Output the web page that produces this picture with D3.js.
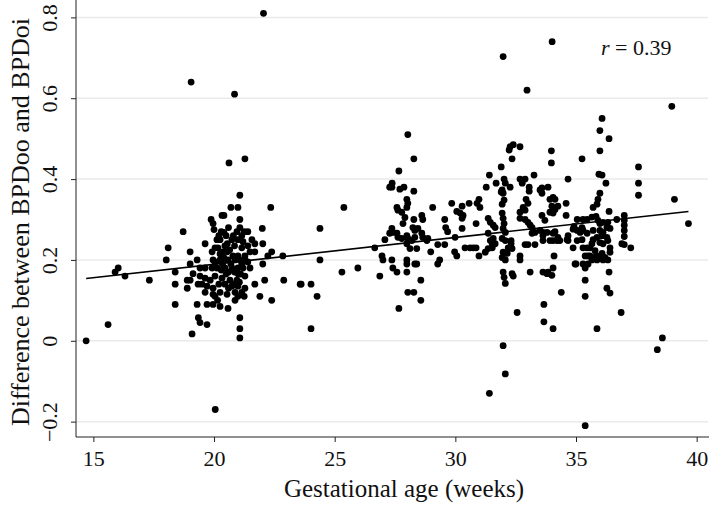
<!DOCTYPE html>
<html><head><meta charset="utf-8">
<script src="https://cdn.jsdelivr.net/npm/d3@7"></script>
<style>body{margin:0;background:#fff}svg{display:block}</style>
</head><body><svg id="c" width="709" height="505"></svg>
<script>
const xTicks = [15, 20, 25, 30, 35, 40];
const yTicks = [-0.2, 0, 0.2, 0.4, 0.6, 0.8];
const yTickLabels = ["\u22120.2", "0", "0.2", "0.4", "0.6", "0.8"];
const xLabel = "Gestational age (weeks)";
const yLabel = "Difference between BPDoo and BPDoi";
const corrValue = "0.39";
const fitIntercept = 0.0562;
const fitSlope = 0.00665;

// gestational age (weeks), difference
const earlyGroup = [
[14.70,0.0],[15.61,0.04],[15.90,0.17],[16.03,0.18],[16.31,0.16],[17.32,0.15],[18.02,0.20],[18.10,0.23],[18.39,0.17],[18.39,0.14],[18.39,0.09],[18.72,0.27],[18.89,0.15],[18.89,0.13],[19.01,0.22],[19.01,0.19],[19.05,0.64],[19.09,0.017],[19.30,0.20],[19.30,0.09],[19.35,0.057],[19.42,0.045],[19.42,0.18],[19.42,0.16],[19.50,0.14],[19.63,0.24],[19.63,0.18],[19.63,0.155],[19.63,0.12],[19.71,0.135],[19.71,0.09],[19.71,0.04],[20.05,-0.17],[19.01,0.15],[19.13,0.166],[19.34,0.14],
[20.62,0.44],[21.28,0.45],[20.85,0.61],[22.05,0.81],
[21.07,0.36],[20.70,0.33],[20.99,0.33],[22.35,0.33],
[20.33,0.31],[20.41,0.31],[19.88,0.30],[19.96,0.29],[21.07,0.30],
[20.00,0.275],[20.41,0.268],[20.95,0.27],[21.07,0.28],[21.25,0.27],[21.40,0.27],[22.00,0.278],
[20.12,0.25],[20.25,0.25],[20.74,0.25],[20.99,0.25],[21.57,0.25],[21.69,0.24],[22.02,0.24],
[19.92,0.22],[20.04,0.23],[20.16,0.23],[20.37,0.22],[20.54,0.22],[20.78,0.21],[20.99,0.21],[21.28,0.21],[21.49,0.22],[21.69,0.22],[20.45,0.235],[20.65,0.225],[21.15,0.23],[21.40,0.235],[20.25,0.215],
[22.23,0.21],[22.39,0.22],[22.85,0.21],
[19.96,0.20],[20.04,0.195],[20.25,0.20],[20.58,0.20],[20.87,0.20],[21.07,0.20],[21.28,0.20],[21.40,0.195],[20.41,0.205],[20.70,0.19],[21.15,0.19],[22.02,0.19],
[19.92,0.18],[20.12,0.18],[20.45,0.18],[20.74,0.18],[20.99,0.18],[21.20,0.18],[21.49,0.18],[20.30,0.175],[20.85,0.17],
[19.84,0.15],[20.04,0.16],[20.33,0.155],[20.66,0.15],[20.95,0.15],[21.28,0.16],[20.50,0.165],[21.10,0.165],
[22.10,0.15],[22.89,0.15],[23.57,0.14],[21.69,0.14],
[19.96,0.13],[20.45,0.14],[20.74,0.135],[20.99,0.135],[21.28,0.13],[20.20,0.14],
[19.96,0.115],[20.25,0.12],[20.54,0.115],[20.87,0.12],[21.15,0.12],
[21.90,0.11],[21.25,0.11],[20.87,0.10],[20.99,0.11],[20.04,0.11],[20.15,0.10],[22.39,0.10],
[19.96,0.09],[20.25,0.085],[20.58,0.08],
[21.07,0.057],[21.07,0.03],[21.07,0.007],
[20.30,0.27],[20.50,0.26],[20.60,0.28],[20.80,0.26],[21.15,0.26],[20.20,0.26],[20.55,0.24],[20.85,0.235],[21.20,0.245],[20.35,0.19],[20.60,0.17],[21.00,0.165],[20.80,0.14],[20.60,0.13],[21.05,0.145]
];
const midGroup = [
[23.61,0.14],[24.02,0.14],[24.02,0.03],[24.27,0.11],[24.39,0.278],[24.39,0.20],[25.30,0.17],[25.38,0.33],[25.96,0.18],[26.87,0.16],
[28.03,0.51],[28.28,0.45],[27.66,0.42],
[27.38,0.39],[27.28,0.38],[27.37,0.38],[27.70,0.375],[27.87,0.38],[28.28,0.37],
[27.99,0.35],[28.03,0.34],[27.99,0.33],[29.06,0.33],[29.85,0.34],[30.06,0.32],
[27.58,0.33],[27.62,0.323],[27.78,0.318],
[28.61,0.31],[28.65,0.30],[28.28,0.30],[27.91,0.305],[27.83,0.29],
[29.56,0.30],[29.60,0.28],[29.68,0.27],
[28.24,0.28],[28.32,0.273],[28.45,0.278],
[27.37,0.278],[27.41,0.268],[27.28,0.266],[27.58,0.266],[27.62,0.256],[27.78,0.253],[27.99,0.26],[28.03,0.253],[28.20,0.248],[28.32,0.256],[28.61,0.266],[28.65,0.256],[28.82,0.248],[28.86,0.253],
[27.08,0.25],[26.66,0.23],
[27.99,0.24],[28.12,0.228],[28.40,0.228],[29.27,0.238],[29.56,0.238],[28.98,0.22],[29.97,0.22],[30.06,0.21],
[26.96,0.21],[27.00,0.20],[27.37,0.20],[27.99,0.20],[27.99,0.19],[28.32,0.19],[28.40,0.19],[29.35,0.20],[29.27,0.19],
[27.41,0.18],[27.58,0.17],[27.99,0.17],[28.57,0.15],
[28.03,0.12],[28.28,0.12],[28.57,0.10],[27.66,0.08]
];
const lateGroup = [
[31.98,0.703],[32.97,0.62],
[32.27,0.48],[32.40,0.485],[32.68,0.48],[32.23,0.472],[32.35,0.45],
[31.90,0.43],[31.41,0.41],[33.26,0.41],
[31.69,0.39],[32.02,0.40],[32.07,0.39],[32.68,0.40],[32.89,0.40],[32.77,0.39],[32.27,0.38],[31.28,0.38],[33.06,0.38],[33.06,0.37],
[31.94,0.373],[31.98,0.365],
[33.59,0.378],[33.84,0.38],[33.51,0.373],[33.59,0.365],[34.05,0.355],
[32.93,0.35],[33.01,0.34],[31.90,0.368],[32.02,0.348],[31.94,0.338],
[30.98,0.35],[30.90,0.34],[31.02,0.33],[30.57,0.34],[30.28,0.333],[30.20,0.316],[30.32,0.31],[30.28,0.303],[30.28,0.278],
[32.81,0.33],[32.68,0.318],[32.89,0.323],
[33.92,0.35],[34.13,0.35],[34.00,0.333],[34.25,0.333],[34.13,0.325],[33.92,0.318],[34.05,0.316],
[31.36,0.303],[31.45,0.293],[31.57,0.286],[31.65,0.28],[30.86,0.29],
[31.94,0.316],[31.98,0.303],[32.02,0.29],[31.98,0.278],[32.07,0.268],
[32.68,0.303],[32.89,0.30],[33.01,0.293],[33.10,0.286],[33.18,0.28],[33.30,0.268],[33.18,0.266],
[33.59,0.31],[33.71,0.298],[33.51,0.273],[33.63,0.268],[33.80,0.268],
[34.13,0.27],[34.05,0.266],[34.25,0.256],
[29.99,0.256],
[30.40,0.23],[30.61,0.23],[30.74,0.23],[30.86,0.23],[30.98,0.21],[31.24,0.219],[31.36,0.228],[31.53,0.23],[31.65,0.24],
[31.36,0.266],[31.45,0.248],[31.53,0.24],[31.57,0.253],
[31.94,0.253],[32.07,0.248],[32.19,0.23],[31.98,0.219],[32.15,0.216],[31.94,0.206],[32.07,0.20],
[32.31,0.248],[32.31,0.24],[32.35,0.228],
[32.89,0.238],[33.01,0.238],[33.30,0.238],
[33.63,0.26],[33.63,0.248],[33.92,0.248],[34.05,0.248],[34.21,0.248],[34.33,0.248],
[32.68,0.21],[32.68,0.20],
[31.98,0.17],[32.02,0.157],[32.07,0.142],[32.35,0.166],[32.40,0.16],
[33.10,0.17],
[33.63,0.17],[33.80,0.166],[33.84,0.17],[34.05,0.18],[34.00,0.162],[34.09,0.21],
[32.56,0.07],[33.67,0.09],[33.67,0.047],[34.05,0.03],
[31.98,-0.012],[32.07,-0.082],[31.41,-0.13],
[34.01,0.74],[36.08,0.55],[35.99,0.52],[36.37,0.50],[33.98,0.47],[33.98,0.44],[35.99,0.47],[35.25,0.45],[34.67,0.40],[35.95,0.412],[36.08,0.41],[36.24,0.39],
[35.99,0.365],[35.91,0.35],[35.87,0.338],[34.59,0.34],[35.71,0.33],[36.37,0.32],
[34.59,0.31],
[34.92,0.283],[34.88,0.276],[35.05,0.273],[35.17,0.268],
[35.05,0.30],[35.29,0.30],[35.46,0.30],[35.66,0.306],[35.83,0.308],[35.91,0.298],[35.99,0.29],[36.12,0.293],[36.32,0.293],[36.28,0.28],[36.41,0.278],[36.12,0.268],[36.08,0.26],[36.28,0.256],[36.32,0.248],[35.87,0.256],[35.99,0.243],[36.12,0.24],[36.41,0.23],[36.08,0.216],
[35.29,0.23],[35.46,0.23],[35.58,0.23],[35.66,0.24],
[35.79,0.223],[35.87,0.21],[35.99,0.206],[36.12,0.20],[36.20,0.206],[36.32,0.20],[36.41,0.219],[35.87,0.20],
[35.50,0.21],[35.71,0.206],[35.66,0.20],
[35.00,0.19],[35.29,0.19],[34.96,0.19],
[35.38,0.15],[35.38,0.11],[36.28,0.13],[36.41,0.118],[36.37,0.17],[35.87,0.03],
[34.67,0.26],[34.67,0.248],[34.88,0.23],[35.05,0.248],
[34.39,0.12],
[35.29,0.273],[35.46,0.266],[35.25,0.28],[35.71,0.273],[35.99,0.273],
[34.63,0.25],[35.25,0.25],[35.71,0.25],
[35.38,0.21],[35.58,0.21],[35.50,0.19],[35.38,0.18],
[37.59,0.43],[37.59,0.39],[37.59,0.36],[39.08,0.35],[36.69,0.30],[37.0,0.31],[37.0,0.298],[37.0,0.286],[37.0,0.273],[37.0,0.258],[36.9,0.24],[37.0,0.238],[37.27,0.23],[39.66,0.29],[36.87,0.07],[38.58,0.007],[38.37,-0.022],[38.97,0.58],[35.38,-0.21]
];

const observations = earlyGroup.concat(midGroup, lateGroup);

const svg = d3.select("#c");
const x = d3.scaleLinear().domain([14.28, 40.47]).range([76, 708]);
const y = d3.scaleLinear().domain([-0.238, 0.843]).range([437, 0]);
const serif = "'Liberation Serif','Times New Roman',Times,serif";

// gridlines
svg.append("g").selectAll("line").data(yTicks).join("line")
  .attr("x1", 76).attr("x2", 708)
  .attr("y1", d => y(d)).attr("y2", d => y(d))
  .attr("stroke", "#eaeaea").attr("stroke-width", 1.5);

// axes
const xAxis = d3.axisBottom(x).tickValues(xTicks).tickSize(5).tickFormat(d3.format("d"));
const gx = svg.append("g").attr("transform", "translate(0,437)").call(xAxis);
gx.select(".domain").attr("stroke", "#222").attr("d", "M76,0H709");
gx.selectAll(".tick line").attr("stroke", "#222");
gx.selectAll(".tick text").attr("font-family", serif).attr("font-size", 22).attr("fill", "#111").attr("dy", "0.95em");

const yAxis = d3.axisLeft(y).tickValues(yTicks).tickSize(5).tickFormat((d, i) => yTickLabels[i]);
const gy = svg.append("g").attr("transform", "translate(76,0)").call(yAxis);
gy.select(".domain").attr("stroke", "#222").attr("d", "M0,0V437");
gy.selectAll(".tick line").attr("stroke", "#222");
gy.selectAll(".tick text")
  .attr("font-family", serif).attr("font-size", 22).attr("fill", "#111")
  .attr("x", null).attr("dy", null)
  .attr("text-anchor", "middle")
  .attr("transform", "translate(-19,0) rotate(-90)");

// points
svg.append("g").selectAll("circle").data(observations).join("circle")
  .attr("cx", d => x(d[0])).attr("cy", d => y(d[1])).attr("r", 3.4).attr("fill", "#000");

// fit line
const xr = d3.extent(observations, d => d[0]);
svg.append("line")
  .attr("x1", x(xr[0])).attr("y1", y(fitIntercept + fitSlope * xr[0]))
  .attr("x2", x(xr[1])).attr("y2", y(fitIntercept + fitSlope * xr[1]))
  .attr("stroke", "#000").attr("stroke-width", 1.6);

// titles
svg.append("text").attr("x", 404).attr("y", 497).attr("text-anchor", "middle")
  .attr("font-family", serif).attr("font-size", 25).attr("fill", "#111").text(xLabel);
svg.append("text").attr("transform", "translate(29,222) rotate(-90)").attr("text-anchor", "middle")
  .attr("font-family", serif).attr("font-size", 26).attr("fill", "#111").text(yLabel);

const rt = svg.append("text").attr("x", 601).attr("y", 55)
  .attr("font-family", serif).attr("font-size", 22).attr("fill", "#111");
rt.append("tspan").attr("font-style", "italic").text("r");
rt.append("tspan").text(" = " + corrValue);
</script></body></html>
